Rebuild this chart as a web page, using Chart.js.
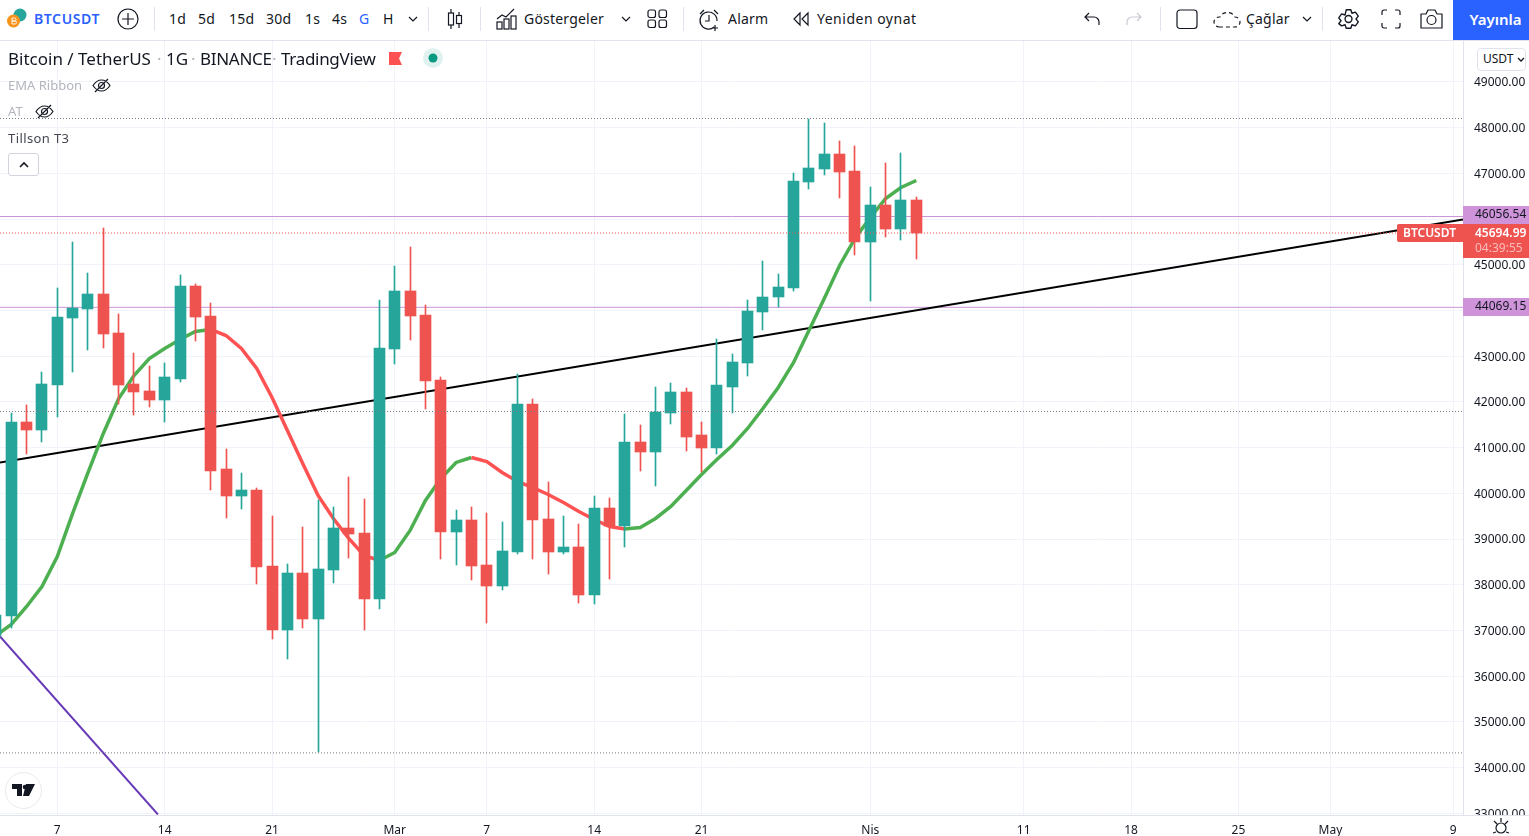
<!DOCTYPE html>
<html lang="tr">
<head>
<meta charset="utf-8">
<title>BTCUSDT</title>
<script src="https://cdn.jsdelivr.net/npm/chart.js@4"></script>
<style>
  html, body { margin: 0; padding: 0; background: #fff; }
  body { width: 1529px; height: 836px; overflow: hidden; position: relative; font-family: "Noto Sans", sans-serif; color: #131722; }
  #myChart { position: absolute; left: 0; top: 41px; }
  #bar { position: absolute; left: 0; top: 0; width: 1529px; height: 40px; border-bottom: 1px solid #e0e3eb; background: #fff; }
  .t { position: absolute; white-space: nowrap; line-height: 18px; }
  #bar .t { top: 10px; font-size: 14px; letter-spacing: 0.2px; }
  .title { top: 48px; font-size: 17px; line-height: 22px; }
  .sep { position: absolute; top: 7px; width: 1px; height: 24px; background: #e0e3eb; }
  svg { position: absolute; fill: none; stroke: #131722; stroke-width: 1.2; }
  #publish { position: absolute; left: 1453px; top: 0; width: 67px; height: 40px; padding-left: 9px; background: #2962ff; color: #fff; font-size: 15px; font-weight: 600; line-height: 38px; text-align: center; }
  #unit { position: absolute; left: 1477px; top: 48px; width: 42px; height: 21px; border: 1px solid #e0e3eb; border-radius: 4px; background: #fff; font-size: 12px; line-height: 20px; padding-left: 5px; }
  #corner { position: absolute; left: 1463px; top: 815px; width: 66px; height: 20px; background: #fff; border-top: 1px solid #e0e3eb; }
  #collapse { position: absolute; left: 8px; top: 153px; width: 29px; height: 21px; border: 1px solid #d1d4dc; border-radius: 3px; background: #fff; }
  #logo { position: absolute; left: 5px; top: 772px; width: 35px; height: 35px; border: 1px solid #e9e9ee; border-radius: 50%; background: #fff; }
</style>
</head>
<body>
<canvas id="myChart" width="1529" height="795"></canvas>

<div id="bar">
  <svg style="left:6px;top:7px" width="22" height="24" stroke="none"><circle cx="14" cy="8" r="6.5" fill="#26a69a" stroke="none"/><circle cx="7.5" cy="14" r="6.5" fill="#f7931a" stroke="none"/><path d="M6 11v6M6 11h2.500a1.400 1.400 0 0 1 0 3H6M6 14h3a1.500 1.500 0 0 1 0 3H6" stroke="#fff" stroke-width=".9"/></svg>
  <span class="t" style="left:34px;color:#2962ff;font-weight:600;letter-spacing:.6px">BTCUSDT</span>
  <svg style="left:117px;top:8px" width="22" height="22"><circle cx="11" cy="11" r="10"/><path d="M11 5v12M5 11h12"/></svg>
  <div class="sep" style="left:154px"></div>
  <span class="t" style="left:169px">1d</span>
  <span class="t" style="left:198px">5d</span>
  <span class="t" style="left:229px">15d</span>
  <span class="t" style="left:266px">30d</span>
  <span class="t" style="left:305px">1s</span>
  <span class="t" style="left:332px">4s</span>
  <span class="t" style="left:359px;color:#2962ff">G</span>
  <span class="t" style="left:383px">H</span>
  <svg style="left:408px;top:16px" width="10" height="7"><path d="M1 1l4 4 4-4"/></svg>
  <div class="sep" style="left:428px"></div>
  <svg style="left:446px;top:8px" width="18" height="22"><path d="M5 1v20M13 4v16"/><rect x="2.5" y="5" width="5" height="12" fill="#fff"/><rect x="10.5" y="7.5" width="5" height="8" fill="#fff"/></svg>
  <div class="sep" style="left:480px"></div>
  <svg style="left:496px;top:8px" width="22" height="22"><path d="M1 11l5-4 4 2 8-8"/><rect x="1" y="14" width="5" height="7"/><rect x="8" y="11" width="5" height="10"/><rect x="15" y="8" width="5" height="13"/></svg>
  <span class="t" style="left:524px">Göstergeler</span>
  <svg style="left:621px;top:16px" width="10" height="7"><path d="M1 1l4 4 4-4"/></svg>
  <svg style="left:647px;top:9px" width="21" height="20"><rect x="1" y="1" width="7.5" height="7.5" rx="2"/><rect x="12" y="1" width="7.5" height="7.5" rx="2"/><rect x="1" y="11" width="7.5" height="7.5" rx="2"/><rect x="12" y="11" width="7.5" height="7.5" rx="2"/></svg>
  <div class="sep" style="left:683px"></div>
  <svg style="left:698px;top:8px" width="24" height="24"><path d="M16 19a8.500 8.500 0 1 1 3-6M11 7v6H7M2 6l4-4M20 6l-4-4M17 17v6M14 20h6"/></svg>
  <span class="t" style="left:728px">Alarm</span>
  <svg style="left:792px;top:11px" width="18" height="16"><path d="M8 2L2 8l6 6zM16 2l-6 6 6 6z"/></svg>
  <span class="t" style="left:817px;letter-spacing:.5px">Yeniden oynat</span>
  <svg style="left:1083px;top:11px" width="18" height="16"><path d="M6 2L2 6l4 4M2 6h9a5 5 0 0 1 5 5v3"/></svg>
  <svg style="left:1125px;top:11px;stroke:#c8cbd3" width="18" height="16"><path d="M12 2l4 4-4 4M16 6H7a5 5 0 0 0-5 5v3"/></svg>
  <div class="sep" style="left:1160px"></div>
  <svg style="left:1176px;top:9px" width="22" height="21"><rect x="1" y="1" width="20" height="18.500" rx="3"/></svg>
  <svg style="left:1213px;top:9px" width="29" height="20"><path stroke-dasharray="4 3" d="M7 18H6a5 5 0 0 1 0-10h1a8 7 0 0 1 15 0 5 5 0 0 1 0 10z"/></svg>
  <span class="t" style="left:1246px">Çağlar</span>
  <svg style="left:1302px;top:16px" width="10" height="7"><path d="M1 1l4 4 4-4"/></svg>
  <div class="sep" style="left:1322px"></div>
  <svg style="left:1337px;top:8px" width="23" height="23"><g transform="translate(-1.7 .65) scale(1.15)"><circle cx="11.500" cy="9" r="3"/><path d="M9.500 1h4l1 3 3-1 2.500 3.500-2 2.500 2 2.500-2.500 3.500-3-1-1 3h-4l-1-3-3 1L3 13l2-2.500L3 8l2.500-3.500 3 1z" stroke-linejoin="round"/></g></svg>
  <svg style="left:1381px;top:9px" width="20" height="20"><path d="M1 6V3a2 2 0 0 1 2-2h3M14 1h3a2 2 0 0 1 2 2v3M19 14v3a2 2 0 0 1-2 2h-3M6 19H3a2 2 0 0 1-2-2v-3"/></svg>
  <svg style="left:1419px;top:8px" width="25" height="22"><path d="M2 6h5l2-4h7l2 4h5v14H2z" stroke-linejoin="round"/><circle cx="12.500" cy="12" r="4.500"/></svg>
  <div id="publish">Yayınla</div>
</div>

<span class="t title" style="left:8px">Bitcoin / TetherUS</span>
<span class="t title" style="left:157px;color:#b2b5be">·</span>
<span class="t title" style="left:166px">1G</span>
<span class="t title" style="left:191px;color:#b2b5be">·</span>
<span class="t title" style="left:200px;letter-spacing:-.3px">BINANCE</span>
<span class="t title" style="left:272px;color:#b2b5be">·</span>
<span class="t title" style="left:281px;letter-spacing:-.3px">TradingView</span>
<svg style="left:389px;top:52px;stroke:none" width="14" height="13"><path d="M0 0h13l-3 6.500 3 6.500H0z" fill="#ff5252"/></svg>
<svg style="left:423px;top:48px;stroke:none" width="20" height="20"><circle cx="10" cy="10" r="10" fill="#e0f2ef"/><circle cx="10" cy="10" r="4.500" fill="#089981"/></svg>
<span class="t" style="left:8px;top:76px;font-size:13px;color:#b2b5be">EMA Ribbon</span>
<svg style="left:92px;top:77px" width="19" height="17"><path d="M1 8.500C4 4 7 3 9.500 3S15 4 18 8.500C15 13 12 14 9.500 14S4 13 1 8.500zM3 15L16 2"/><circle cx="9.500" cy="8.500" r="3"/></svg>
<span class="t" style="left:8px;top:102px;font-size:13px;color:#b2b5be">AT</span>
<svg style="left:35px;top:103px" width="19" height="17"><path d="M1 8.500C4 4 7 3 9.500 3S15 4 18 8.500C15 13 12 14 9.500 14S4 13 1 8.500zM3 15L16 2"/><circle cx="9.500" cy="8.500" r="3"/></svg>
<span class="t" style="left:8px;top:129px;font-size:13px;color:#434651;letter-spacing:.4px">Tillson T3</span>
<div id="collapse"><svg style="left:9px;top:7px;stroke-width:1.600" width="12" height="8"><path d="M2 6l4-4 4 4"/></svg></div>
<div id="unit">USDT<svg style="left:39px;top:8px;stroke-width:1.300" width="8" height="6"><path d="M1 1l3 3 3-3"/></svg></div>
<div id="logo"><svg style="left:6px;top:11px;stroke:none" width="24" height="13"><path d="M0 0h10v12H5V5H0zM14 0h9l-6 12h-6z" fill="#131722"/><circle cx="13" cy="3" r="2.300" fill="#131722"/></svg></div>
<div id="corner"><svg style="left:29px;top:1px" width="18" height="19"><circle cx="9" cy="11" r="5"/><path d="M9 1v4M2 4l3 3M16 4l-3 3M1 16l3-1M17 16l-3-1"/></svg></div>

<script>
// jours comptes depuis le 1er fevrier (7 fev = 6)
const candleDays = [2,3,4,5,6,7,8,9,10,11,12,13,14,15,16,17,18,19,20,21,22,23,24,25,26,27,28,29,30,31,32,33,34,35,36,37,38,39,40,41,42,43,44,45,46,47,48,49,50,51,52,53,54,55,56,57,58,59,60,61,62];
const opens  = [36870,37305,41571,41375,42359,43825,44022,44372,43497,42381,42228,42031,42512,44547,43869,40521,39952,40083,38399,36999,38246,37239,38312,39230,39121,37677,43147,44416,43891,42469,39143,39405,38421,37962,38705,41944,39427,38705,38815,37764,39668,39274,41112,40893,41747,42206,41265,40981,42337,42862,43978,44285,44503,46801,47107,47435,47063,45488,46298,45794,46407];
const closes = [37327,41571,41375,42381,43847,44044,44372,43475,42359,42206,42031,42534,44547,43847,40499,39952,40083,38377,36999,38246,37239,38334,39230,39099,37677,43169,44416,43869,42447,39143,39405,38399,37962,38727,41944,39405,38705,38815,37764,39668,39274,41112,40893,41769,42206,41243,40981,42359,42884,44000,44306,44525,46823,47129,47435,47041,45488,46298,45794,46407,45694.99];
const highs  = [37327,41762,41922,42665,44503,45488,44810,45816,43934,43081,42775,42841,44766,44569,44175,40959,40455,40127,39493,38443,39252,39843,39690,40346,39865,44219,44963,45400,44110,42534,39624,39690,39559,39362,42600,42053,40237,39493,39318,39952,39887,41725,41484,42337,42403,42294,41550,43366,43038,44219,45094,44788,46998,48201,48092,47698,47610,46713,47217,47457,46473];
const lows   = [36870,37049,40850,41112,41659,42665,43125,43169,41944,41703,41878,41550,42425,43322,40083,39449,39646,38005,36802,36364,37042,34329,38027,38574,36999,37458,42819,43344,41834,38552,38421,38093,37152,37874,38662,38552,38224,38662,37589,37567,38115,38836,40499,40149,41506,40915,40477,40871,41747,42556,43584,44066,44416,46669,46954,46451,45204,44197,45619,45532,45116];
const t3Values = [36889,37130,37524,37962,38618,39559,40455,41309,42075,42578,42950,43169,43366,43541,43585,43453,43169,42731,42097,41375,40653,39952,39449,39012,38640,38530,38705,39187,39843,40324,40675,40784,40696,40455,40259,40127,39974,39799,39602,39427,39274,39220,39252,39449,39712,40062,40412,40740,41046,41418,41856,42316,42862,43563,44263,44985,45576,46034,46451,46692,46845];

const xTickDays   = [6,13,20,28,34,41,48,59,69,76,83,89,97];
const xTickLabels = ['7','14','21','Mar','7','14','21','Nis','11','18','25','May','9'];
const yTickValues = [33000,34000,35000,36000,37000,38000,39000,40000,41000,42000,43000,44000,45000,46000,47000,48000,49000];

const dayMin = 2.265, dayMax = 97.64;
const priceMin = 32961, priceMax = 49897;

const blackTrendDays = [dayMin, dayMax];
const blackTrendPrices = [40675, 45991];
const purpleTrendDays = [dayMin, 12.56];
const purpleTrendPrices = [36867, 32973];

const alertLevels = [46056.54, 44069.15];
const dottedLevels = [48201, 41790, 34320];
const lastPrice = 45694.99;
const lastTimer = '04:39:55';
const symbolName = 'BTCUSDT';

const UP = '#26a69a', DOWN = '#ef5350';
const FONT = '"Noto Sans", sans-serif';

const isUp = i => closes[i] >= opens[i];
const points = (xs, ys) => xs.map((x, i) => ({x: x, y: ys[i]}));
const levelLine = (y, color, dash, order) => ({
  type: 'line', data: points([dayMin, dayMax], [y, y]),
  borderColor: color, borderWidth: 1, borderDash: dash, pointRadius: 0, order: order
});

const datasets = [];
alertLevels.forEach(y => datasets.push(levelLine(y, '#ce93d8', [], 6)));
datasets.push({
  type: 'line', data: points(blackTrendDays, blackTrendPrices),
  borderColor: '#000', borderWidth: 2, pointRadius: 0, order: 5
});
datasets.push({
  type: 'line', data: points(purpleTrendDays, purpleTrendPrices),
  borderColor: '#673ab7', borderWidth: 2, pointRadius: 0, order: 5
});
datasets.push({
  type: 'line', data: points(candleDays, t3Values),
  borderColor: '#4caf50', borderWidth: 3.5, pointRadius: 0, tension: 0, order: 4,
  segment: { borderColor: c => c.p1.parsed.y < c.p0.parsed.y ? '#ff5252' : '#4caf50' }
});
// meches
datasets.push({
  type: 'bar', data: candleDays.map((d, i) => ({x: d, y: [lows[i], highs[i]]})),
  backgroundColor: c => isUp(c.dataIndex) ? UP : DOWN,
  barThickness: 1, grouped: false, order: 3
});
// corps
datasets.push({
  type: 'bar', data: candleDays.map((d, i) => ({x: d, y: [opens[i], closes[i]]})),
  backgroundColor: c => isUp(c.dataIndex) ? UP : DOWN,
  barThickness: 11, grouped: false, order: 2
});
dottedLevels.forEach(y => datasets.push(levelLine(y, '#787b86', [1, 2], 1)));
datasets.push(levelLine(lastPrice, '#ef5350', [1, 2], 1));

// barres nettes : on cale les barres sur le pixel
const snapBars = {
  id: 'snapBars',
  beforeDatasetDraw(chart, args) {
    if (args.meta.type !== 'bar') return;
    args.meta.data.forEach(el => {
      el.x = Math.round(el.x - 0.5) + 0.5;
      el.y = Math.round(el.y);
      el.base = Math.round(el.base);
    });
  }
};

// etiquettes de prix sur l'axe
const priceTags = {
  id: 'priceTags',
  afterDraw(chart) {
    const c = chart.ctx, y = chart.scales.y, left = chart.chartArea.right + 1, w = 65;
    const p = Math.round(y.getPixelForValue(lastPrice));
    c.save();
    c.textBaseline = 'middle';
    c.textAlign = 'left';
    alertLevels.forEach(v => {
      // une etiquette qui touche celle du dernier prix remonte au-dessus
      const own = Math.round(y.getPixelForValue(v));
      const top = Math.abs(own - p) < 18 ? p - 27 : own - 9;
      c.fillStyle = '#ce93d8';
      c.fillRect(left - 1, top, w + 1, 18);
      c.fillStyle = '#131722';
      c.font = '12px ' + FONT;
      c.fillText(v.toFixed(2), left + 11, top + 9);
    });
    c.fillStyle = DOWN;
    c.fillRect(left - 1, p - 9, w + 1, 34);
    c.beginPath();
    c.roundRect(left - 67, p - 9, 67, 18, [2, 0, 0, 2]);
    c.fill();
    c.fillStyle = '#fff';
    c.font = '600 12px ' + FONT;
    c.fillText(symbolName, left - 61, p + 1);
    c.fillText(lastPrice.toFixed(2), left + 11, p + 1);
    c.fillStyle = 'rgba(255,255,255,0.6)';
    c.font = '12px ' + FONT;
    c.fillText(lastTimer, left + 11, p + 16);
    c.restore();
  }
};

new Chart(document.getElementById('myChart'), {
  type: 'bar',
  data: { datasets: datasets },
  plugins: [snapBars, priceTags],
  options: {
    responsive: false,
    animation: false,
    events: [],
    layout: { padding: 0 },
    plugins: { legend: { display: false }, tooltip: { enabled: false } },
    scales: {
      x: {
        type: 'linear', min: dayMin, max: dayMax, offset: false,
        grid: { offset: false, color: '#f0f3fa', drawTicks: false },
        border: { color: '#e0e3eb' },
        afterBuildTicks: s => { s.ticks = xTickDays.map(d => ({value: d})); },
        afterFit: s => { s.height = 21; s.paddingLeft = 0; s.paddingRight = 0; },
        ticks: {
          autoSkip: false, maxRotation: 0, padding: 8, color: '#131722',
          font: { family: FONT, size: 12 },
          callback: (v, i) => xTickLabels[i]
        }
      },
      y: {
        position: 'right', min: priceMin, max: priceMax,
        grid: { color: '#f0f3fa', drawTicks: false },
        border: { color: '#e0e3eb' },
        afterBuildTicks: s => { s.ticks = yTickValues.map(v => ({value: v})); },
        afterFit: s => { s.width = 66; s.paddingTop = 0; s.paddingBottom = 0; },
        ticks: {
          padding: 11, labelOffset: 1, color: '#131722',
          font: { family: FONT, size: 12 },
          callback: v => v.toFixed(2)
        }
      }
    }
  }
});
</script>
</body>
</html>
